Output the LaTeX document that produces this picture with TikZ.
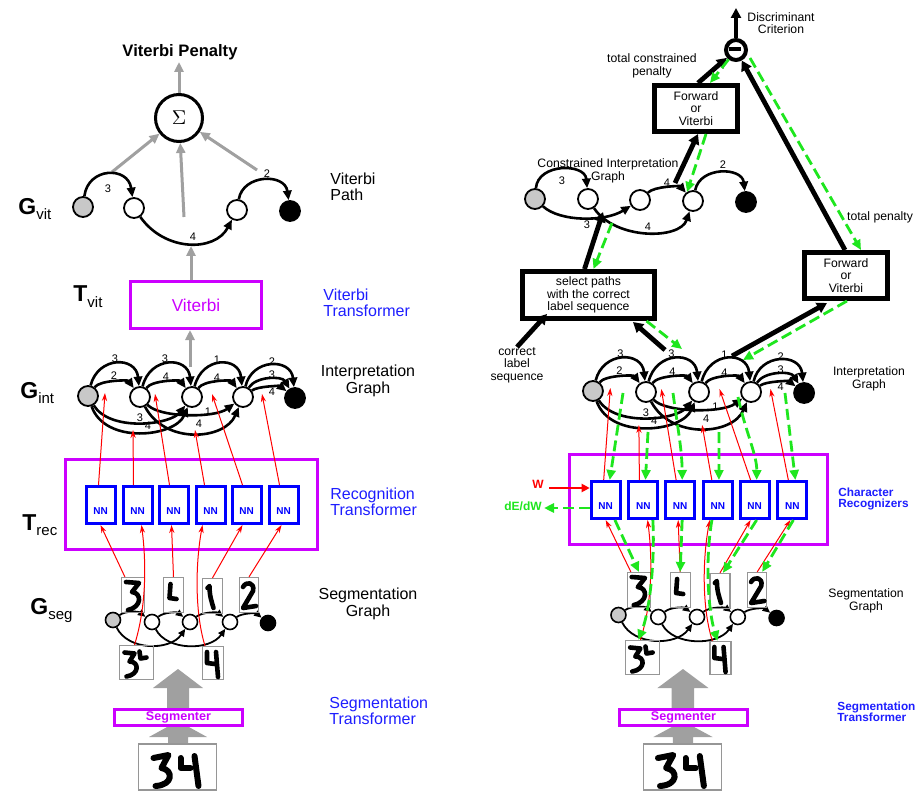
\documentclass[tikz,border=0pt]{standalone}
\usepackage{fontspec}
\setmainfont{Liberation Sans}
\usetikzlibrary{arrows.meta}
\definecolor{mag}{RGB}{204,0,255}
\definecolor{blu}{RGB}{30,30,255}
\definecolor{nnblu}{RGB}{0,0,255}
\definecolor{grn}{RGB}{30,230,30}
\definecolor{gry}{RGB}{160,160,160}
\definecolor{lgry}{RGB}{200,200,200}
\definecolor{bgry}{RGB}{150,150,150}
\newcommand\fsz[2]{\fontsize{#1}{#2}\selectfont}
\tikzset{
  gnode/.style={circle,draw,line width=0.9pt,fill=lgry,minimum size=10pt,inner sep=0pt},
  wnode/.style={gnode,fill=white},
  bnode/.style={gnode,fill=black},
  sgnode/.style={circle,draw,line width=0.8pt,fill=lgry,minimum size=7.5pt,inner sep=0pt},
  swnode/.style={sgnode,fill=white},
  sbnode/.style={sgnode,fill=black},
  iarc/.style={draw,line width=1.3pt,-{Triangle[length=4.8pt,width=4.2pt]}},
  sarc/.style={draw,line width=0.9pt,-{Triangle[length=3.8pt,width=3.3pt]}},
  elab/.style={font=\fsz{5.5}{6},inner sep=0pt},
  rarr/.style={draw=red,line width=0.5pt,-{Stealth[length=4pt,width=2.6pt]}},
  garr/.style={draw=grn,line width=1.4pt,dash pattern=on 5.5pt off 2.5pt,-{Triangle[length=5pt,width=4.5pt]}},
  thk/.style={draw,line width=2.4pt,-{Triangle[length=5pt,width=5.5pt]}},
  gyarr/.style={draw=gry,line width=1.5pt,-{Triangle[length=5pt,width=4.5pt]}},
  nnbox/.style={draw=nnblu,line width=1.5pt,minimum width=14.5pt,minimum height=18.5pt,inner sep=0pt},
  nnlab/.style={font=\bfseries\fsz{5}{5},text=nnblu,inner sep=0pt},
  segbox/.style={draw=bgry,line width=0.6pt,inner sep=0pt},
  digit/.style={line width=2.3pt,line cap=round,line join=round},
  lab/.style={font=\fsz{8}{8.2},inner sep=0pt},
  blab/.style={lab,text=blu},
  rlab/.style={font=\fsz{6.1}{6.2},inner sep=0pt},
  rblab/.style={font=\bfseries\fsz{5.9}{5.7},text=blu,inner sep=0pt},
  fbox/.style={draw,line width=2.5pt,minimum width=41.5pt,minimum height=23pt,align=center,font=\fsz{6.1}{6.1},inner sep=0pt},
  biglab/.style={anchor=base west,inner sep=0pt,font=\bfseries\fsz{11.5}{11.5}}
}
\newcommand\digitat[3]{\begin{scope}[shift={(#1,#2)}]#3\end{scope}}
\newcommand\subs[1]{\raisebox{-2.5pt}{\mdseries\fsz{7.5}{7.5}#1}}
% ---------- shared lower structure ----------
\newcommand\lowerpart[2]{%
  \node[draw=mag,line width=1.5pt,minimum width=#2,minimum height=45pt,inner sep=0pt] (#1rec) at (191.5,-504.5) {};
  \foreach \k/\x in {1/100.5,2/137.5,3/173.5,4/210.5,5/246.5,6/283.5}{%
    \node[nnbox] (#1n\k) at (\x,-505) {};
    \node[nnlab] (#1m\k) at (\x,-511) {NN};
  }%
  % interpretation graph
  \node[gnode] (#1g0) at (88,-396) {};
  \node[wnode] (#1i1) at (140,-397) {};
  \node[wnode] (#1i2) at (192,-397) {};
  \node[wnode] (#1i3) at (243,-397) {};
  \node[bnode] (#1i4) at (295,-398) {};
  \draw[iarc] (#1g0) .. controls (98,-356) and (136,-356) .. (#1i1);
  \draw[iarc] (#1g0) .. controls (100,-380) and (128,-380) .. (#1i1);
  \draw[iarc] (#1i1) .. controls (150,-356) and (188,-356) .. (#1i2);
  \draw[iarc] (#1i1) .. controls (152,-380) and (180,-380) .. (#1i2);
  \draw[iarc] (#1i2) .. controls (202,-356) and (239,-356) .. (#1i3);
  \draw[iarc] (#1i2) .. controls (204,-380) and (231,-380) .. (#1i3);
  \draw[iarc] (#1i3) .. controls (252,-358) and (291,-358) .. (#1i4);
  \draw[iarc] (#1i3) .. controls (256,-376) and (282,-376) .. (#1i4);
  \draw[iarc] (#1i3) .. controls (258,-386) and (280,-386) .. (#1i4);
  \draw[iarc] (#1g0) .. controls (110,-432) and (170,-425) .. (#1i2);
  \draw[iarc] (#1g0) .. controls (105,-445) and (175,-437) .. (#1i2);
  \draw[iarc] (#1i1) .. controls (160,-418) and (215,-418) .. (#1i3);
  \draw[iarc] (#1i1) .. controls (165,-445) and (225,-440) .. (#1i3);
  \node[elab] (#1e1) at (115,-359) {3};
  \node[elab] (#1e2) at (114,-376) {2};
  \node[elab] (#1e3) at (165,-359) {3};
  \node[elab] (#1e4) at (166,-377) {4};
  \node[elab] (#1e5) at (217,-360) {1};
  \node[elab] (#1e6) at (217,-378) {4};
  \node[elab] (#1e7) at (272,-362) {2};
  \node[elab] (#1e8) at (272,-375) {3};
  \node[elab] (#1e9) at (272,-392) {4};
  \node[elab] (#1e10) at (140,-418) {3};
  \node[elab] (#1e11) at (148,-426) {4};
  \node[elab] (#1e12) at (208,-412) {1};
  \node[elab] (#1e13) at (199,-424) {4};
  % segmentation graph
  \node[sgnode] (#1s0) at (113,-620) {};
  \node[swnode] (#1s1) at (152,-622) {};
  \node[swnode] (#1s2) at (190,-622) {};
  \node[swnode] (#1s3) at (230,-622) {};
  \node[sbnode] (#1s4) at (268,-623) {};
  \draw[sarc] (#1s0) .. controls (125,-611) and (138,-611) .. (#1s1);
  \draw[sarc] (#1s1) .. controls (164,-612) and (177,-612) .. (#1s2);
  \draw[sarc] (#1s2) .. controls (202,-612) and (217,-612) .. (#1s3);
  \draw[sarc] (#1s3) .. controls (242,-613) and (256,-613) .. (#1s4);
  \draw[sarc] (#1s0) .. controls (128,-651) and (170,-651) .. (#1s2);
  \draw[sarc] (#1s1) .. controls (167,-651) and (210,-651) .. (#1s3);
  % segment images
  \node[segbox,minimum width=11.5pt,minimum height=17.5pt] (#1b3) at (133,-595) {};
  \node[segbox,minimum width=10pt,minimum height=17.5pt] (#1bL) at (173.5,-595) {};
  \node[segbox,minimum width=10pt,minimum height=17.5pt] (#1b1) at (212.5,-596) {};
  \node[segbox,minimum width=9.5pt,minimum height=17.5pt] (#1b2) at (249,-595) {};
  \node[segbox,minimum width=17pt,minimum height=17pt] (#1b34) at (136.5,-662.5) {};
  \node[segbox,minimum width=10.5pt,minimum height=16.5pt] (#1b4) at (213,-663) {};
  \digitat{133}{-595}{\draw[digit] (-7,13) -- (6,12) -- (-1,3) .. controls (9,2) and (9,-12) .. (-5,-15);}
  \digitat{173.5}{-595}{\draw[digit] (-3,11) -- (-4,-3) -- (3,-4);}
  \digitat{212.5}{-596}{\draw[digit] (-5,8) -- (-3,10) .. controls (-3,0) and (-1,-5) .. (1,-12);}
  \digitat{249}{-595}{\draw[digit] (-6,8) .. controls (-3,14) and (6,13) .. (4,4) -- (-6,-13) -- (7,-11);}
  \digitat{136.5}{-662.5}{\draw[digit] (-12,10) -- (-2,9) -- (-7,1) .. controls (3,1) and (3,-12) .. (-10,-14); \draw[digit] (3,11) -- (4,4) -- (10,5);}
  \digitat{213}{-663}{\draw[digit] (-6,11) -- (-6,0) -- (2,-1); \draw[digit] (3,11) -- (5,-14);}
  % red arrows: images -> recognizers
  \draw[rarr] ([xshift=2pt]#1b3.north west) -- (#1n1.south);
  \draw[rarr] ([xshift=-1pt]#1b34.north) .. controls (147,-605) and (146,-560) .. ([xshift=2pt]#1n2.south);
  \draw[rarr] (#1bL.north) -- ([xshift=-1pt]#1n3.south);
  \draw[rarr] ([xshift=-4pt]#1b4.north) .. controls (194,-610) and (196,-560) .. ([xshift=-4pt]#1n4.south);
  \draw[rarr] (#1b1.north) -- ([xshift=-2pt]#1n5.south);
  \draw[rarr] (#1b2.north) -- ([xshift=-1pt]#1n6.south);
  % red arrows: recognizers -> interpretation graph
  \coordinate (#1t1) at (105,-393);
  \coordinate (#1t2) at (133,-430);
  \coordinate (#1t3) at (155,-394);
  \coordinate (#1t4) at (195,-430);
  \coordinate (#1t5) at (212,-394);
  \coordinate (#1t6) at (262,-394);
  \draw[rarr] ([xshift=-1pt]#1n1.north) -- (#1t1);
  \draw[rarr] ([xshift=-2pt]#1n2.north) -- (#1t2);
  \draw[rarr] ([xshift=-2pt]#1n3.north) -- (#1t3);
  \draw[rarr] ([xshift=-3pt]#1n4.north) -- (#1t4);
  \draw[rarr] ([xshift=-2pt]#1n5.north) -- (#1t5);
  \draw[rarr] ([xshift=-2pt]#1n6.north) -- (#1t6);
}
% ---------- segmenter and input ----------
\newcommand\bottompart[1]{%
  \fill[gry] (167,-708) -- (167,-688) -- (153,-688) -- (178,-669) -- (203,-688) -- (189,-688) -- (189,-708) -- cycle;
  \fill[gry] (168,-745) -- (168,-737) -- (149,-737) -- (178,-721) -- (207,-737) -- (188,-737) -- (188,-745) -- cycle;
  \node[draw=mag,fill=white,line width=1.5pt,minimum width=64pt,minimum height=8pt,inner sep=0pt,text=mag,font=\bfseries\fsz{6.3}{6.3}] (#1sgm) at (178.5,-717.5) {Segmenter};
  \node[segbox,fill=white,minimum width=39pt,minimum height=23pt] (#1inp) at (177.5,-767) {};
  \digitat{177.5}{-767}{\draw[digit,line width=3pt] (-24,9) -- (-9,12) -- (-16,-1) .. controls (-4,-3) and (-4,-18) .. (-22,-19);
    \draw[digit,line width=3pt] (3,9) -- (3,-1) -- (13,-1);
    \draw[digit,line width=3pt] (17,11) -- (21,-19);}
}
\begin{document}
\begin{tikzpicture}[x=0.5pt,y=0.5pt]
\useasboundingbox (0,0) rectangle (921,-791);
\fill[white] (0,0) rectangle (921,-791);

% ================= LEFT =================
\node[font=\bfseries\fsz{8.3}{9},inner sep=0pt] (vpen) at (180,-52) {Viterbi Penalty};
\node[circle,draw,line width=1.5pt,minimum size=23.5pt,inner sep=0pt] (sig) at (179,-118) {\fsz{10}{10}$\Sigma$};
\coordinate (vtip) at (179,-62);
\draw[gyarr] (sig) -- (vtip);
\coordinate (ga1) at (112,-172);
\coordinate (ga2) at (184,-217);
\coordinate (ga3) at (257,-170);
\draw[gyarr] (ga1) -- (sig);
\draw[gyarr] (ga2) -- (sig);
\draw[gyarr] (ga3) -- (sig);

% Viterbi path
\node[gnode] (v0) at (83,-207) {};
\node[wnode] (v1) at (134,-208) {};
\node[wnode] (v2) at (237,-210) {};
\node[bnode] (v3) at (290,-211) {};
\draw[iarc] (v0) .. controls (88,-167) and (128,-166) .. (v1);
\draw[iarc] (v1) .. controls (165,-252) and (215,-252) .. (v2);
\draw[iarc] (v2) .. controls (243,-174) and (285,-173) .. (v3);
\node[elab] (vl1) at (108,-189) {3};
\node[elab] (vl2) at (193,-237) {4};
\node[elab] (vl3) at (267,-174) {2};
\node[biglab] (Gvit) at (18,-215) {G\subs{vit}};
\node[lab,anchor=west,align=left] (vpt) at (330,-187) {Viterbi\\Path};

% Viterbi transformer
\node[draw=mag,line width=1.5pt,minimum width=65.5pt,minimum height=23.5pt,inner sep=0pt,text=mag,font=\fsz{8.6}{8.6}] (vb) at (196,-305) {Viterbi};
\coordinate (vtp) at (191,-246);
\draw[gyarr] ([xshift=-2.5pt]vb.north) -- (vtp);
\coordinate (gia) at (190,-367);
\draw[gyarr] (gia) -- ([xshift=-3pt]vb.south);
\node[biglab] (Tvit) at (73,-302) {T\subs{vit}};
\node[blab,anchor=west,align=left] (vtr) at (323,-303) {Viterbi\\Transformer};

% lower structure left
\lowerpart{L}{126pt}
\bottompart{L}
\node[biglab] (Gint) at (20,-398) {G\subs{int}};
\node[biglab] (Trec) at (22,-530) {T\subs{rec}};
\node[biglab] (Gseg) at (30,-614) {G\subs{seg}};
\node[lab,align=center] (igl) at (368,-381) {Interpretation\\Graph};
\node[blab,anchor=west,align=left] (rtr) at (330,-502) {Recognition\\Transformer};
\node[lab,align=center] (sgl) at (368,-604) {Segmentation\\Graph};
\node[blab,anchor=west,align=left] (str) at (329,-711) {Segmentation\\Transformer};

% ================= RIGHT =================
\begin{scope}[shift={(503.2,5)},xscale=1.02]
\lowerpart{R}{129pt}
\end{scope}
\begin{scope}[shift={(501.4,0)},xscale=1.02]
\bottompart{R}
\end{scope}
\node[rlab,align=center] (rigl) at (869,-379) {Interpretation\\Graph};
\node[rblab,anchor=west,align=left] (crl) at (838,-499) {Character\\Recognizers};
\node[rlab,align=center] (rsgl) at (866,-601) {Segmentation\\Graph};
\node[rblab,anchor=west,align=left] (rstr) at (837,-712) {Segmentation\\Transformer};

% W and dE/dW
\node[font=\bfseries\fsz{6}{6},text=red,inner sep=0pt] (wl) at (538,-484) {W};
\coordinate (ws) at (549,-488);
\draw[draw=red,line width=1.1pt,-{Triangle[length=4pt,width=4pt]}] (ws) -- (Rn1.west |- ws);
\node[font=\bfseries\fsz{6}{6},text=grn,inner sep=0pt] (dl) at (523,-506) {dE/dW};
\coordinate (ds) at (544,-508);
\draw[garr] (Rn1.west |- ds) -- (ds);

% top right
\node[circle,draw,line width=2pt,minimum size=10pt,inner sep=0pt] (mc) at (736,-50) {};
\fill (729,-47.5) rectangle (741,-51.5);
\coordinate (dct) at (736,-8);
\draw[line width=1.6pt,-{Triangle[length=5pt,width=5pt]}] (mc) -- (dct);
\node[rlab,align=center] (dcl) at (781,-23) {Discriminant\\Criterion};
\node[rlab,align=center] (tcp) at (652,-66) {total constrained\\penalty};
\node[fbox] (fb1) at (696,-108.5) {Forward\\or\\Viterbi};
\node[fbox] (fb2) at (846,-275.5) {Forward\\or\\Viterbi};
\node[fbox,minimum width=66pt,minimum height=23.5pt] (sb) at (588.5,-295) {select paths\\with the correct\\label sequence};
\node[rlab] (tpl) at (880,-217) {total penalty};
\node[rlab,align=center] (cls) at (517,-365) {correct\\label\\sequence};
\node[rlab,align=center] (cig) at (608,-171) {Constrained Interpretation\\Graph};

% constrained interpretation graph
\node[gnode] (c0) at (535,-199) {};
\node[wnode] (c1) at (588,-199) {};
\node[wnode] (c2) at (640,-200) {};
\node[wnode] (c3) at (693,-201) {};
\node[bnode] (c4) at (746,-202) {};
\draw[iarc] (c0) .. controls (538,-163) and (585,-163) .. (c1);
\draw[iarc] (c0) .. controls (560,-222) and (605,-222) .. (c2);
\draw[iarc] (c1) .. controls (615,-240) and (680,-240) .. (c3);
\draw[iarc] (c2) .. controls (655,-186) and (680,-186) .. (c3);
\draw[iarc] (c3) .. controls (700,-166) and (742,-167) .. (c4);
\node[elab] (cl1) at (562,-181) {3};
\node[elab] (cl2) at (587,-225) {3};
\node[elab] (cl3) at (648,-227) {4};
\node[elab] (cl4) at (667,-183) {4};
\node[elab] (cl5) at (723,-165) {2};

% thick black forward arrows
\coordinate (a1e) at (603,-212);
\draw[thk] ([xshift=-2pt]sb.north) -- (a1e);
\coordinate (a2s) at (517,-347);
\coordinate (a2e) at (547,-314);
\draw[thk] (a2s) -- (a2e);
\coordinate (a3s) at (665,-350);
\coordinate (a3e) at (633,-322);
\draw[thk] (a3s) -- (a3e);
\coordinate (a4s) at (732,-356);
\coordinate (a4e) at (827,-303);
\draw[thk] (a4s) -- (a4e);
\coordinate (a5s) at (675,-183);
\draw[thk] (a5s) -- ([xshift=1pt]fb1.south);
\coordinate (a6s) at (698,-83);
\draw[thk] (a6s) -- (mc);
\coordinate (a7s) at (845,-250);
\draw[thk] (a7s) -- (mc);

% green backward arrows (top)
\coordinate (g1e) at (710,-83);
\draw[garr] (mc) -- (g1e);
\coordinate (g2s) at (750,-58);
\coordinate (g2e) at (861,-250);
\draw[garr] (g2s) -- (g2e);
\coordinate (g3e) at (687,-192);
\draw[garr] ([xshift=5pt]fb1.south) -- (g3e);
\coordinate (g4s) at (612,-223);
\draw[garr] (g4s) -- ([xshift=2.5pt]sb.north);
\coordinate (g5e) at (682,-349);
\draw[garr] ([xshift=29pt]sb.south) -- (g5e);
\coordinate (g6e) at (743,-360);
\draw[garr] ([xshift=0.5pt]fb2.south) -- (g6e);

% green backward arrows (lower)
\coordinate (k1) at (623,-393);
\coordinate (k2) at (648,-432);
\coordinate (k3) at (673,-393);
\coordinate (k4) at (719,-432);
\coordinate (k5) at (738,-397);
\coordinate (k6) at (785,-393);
\draw[garr] (k1) -- ([xshift=2pt]Rn1.north);
\draw[garr] (k2) -- ([xshift=1pt]Rn2.north);
\draw[garr] (k3) .. controls (678,-430) and (682,-450) .. ([xshift=1pt]Rn3.north);
\draw[garr] (k4) -- ([xshift=0.5pt]Rn4.north);
\draw[garr] (k5) .. controls (745,-430) and (757,-455) .. ([xshift=1pt]Rn5.north);
\draw[garr] (k6) -- ([xshift=1.5pt]Rn6.north);
\draw[garr] ([xshift=4.6pt]Rn1.south) -- (Rb3.north);
\draw[garr] ([xshift=4.7pt]Rn2.south) .. controls (655,-560) and (650,-610) .. ([xshift=-2pt]Rb34.north);
\draw[garr] ([xshift=1pt]Rn3.south) -- (RbL.north);
\draw[garr] ([xshift=-3pt]Rn4.south) .. controls (705,-560) and (708,-610) .. ([xshift=-1.5pt]Rb4.north);
\draw[garr] ([xshift=1pt]Rn5.south) -- ([xshift=1.5pt]Rb1.north);
\draw[garr] ([xshift=0.5pt]Rn6.south) -- ([xshift=2.5pt]Rb2.north);
\end{tikzpicture}
\end{document}
